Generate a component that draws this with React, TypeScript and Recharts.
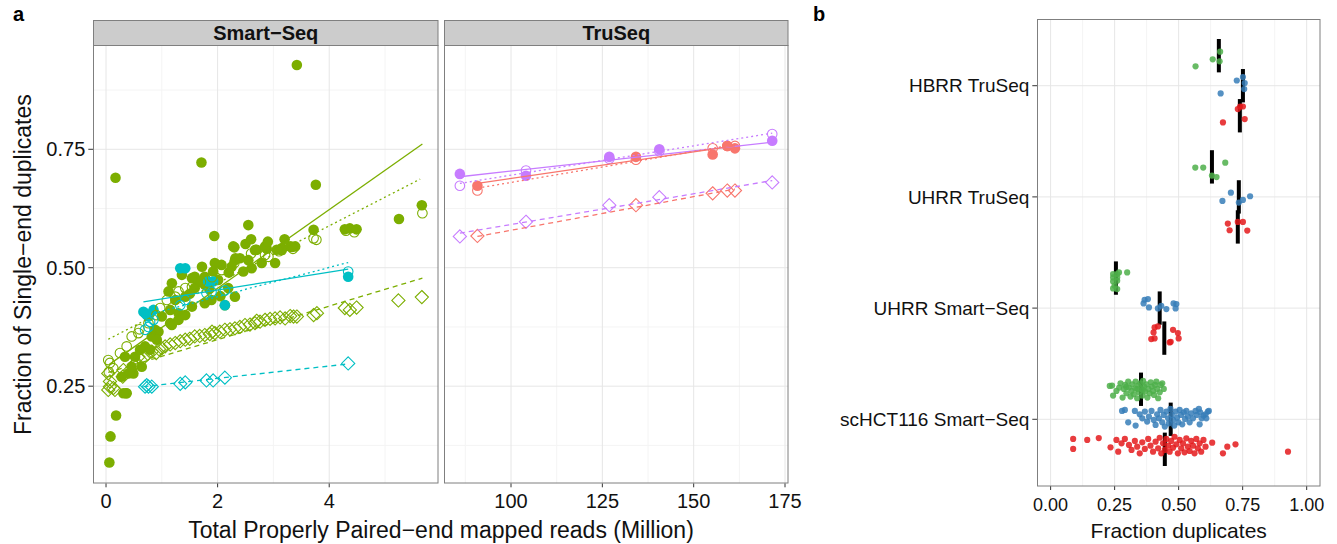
import React from "react";
import {
  ScatterChart,
  Scatter,
  XAxis,
  YAxis,
  CartesianGrid,
  ReferenceLine,
} from "recharts";

// ---- colours ----
const GREEN = "#7CAE00";
const CYAN = "#00BFC4";
const RED = "#F8766D";
const PURPLE = "#C77CFF";
const SET_GREEN = "#4DAF4A";
const SET_BLUE = "#377EB8";
const SET_RED = "#E41A1C";

// ---- panel a, Smart-Seq: [million reads, fraction] ----
const smartGreenFilled = [
  [3.42, 0.928], [0.17, 0.69], [1.71, 0.722], [3.76, 0.675], [1.94, 0.567], [2.55, 0.59],
  [2.3, 0.543], [5.66, 0.632], [5.25, 0.603], [4.28, 0.581], [4.37, 0.583], [4.49, 0.581],
  [3.72, 0.58], [2.68, 0.538], [2.88, 0.54], [3.15, 0.541], [3.39, 0.545], [2.32, 0.52],
  [0.06, 0.089], [0.08, 0.144], [0.18, 0.188], [0.36, 0.235],
  [0.37, 0.235], [0.4, 0.277], [0.52, 0.312], [0.7, 0.334], [0.82, 0.355], [0.94, 0.365],
  [1.18, 0.379], [1.3, 0.404], [1.15, 0.411], [1.12, 0.45], [1.24, 0.432], [1.42, 0.439],
  [1.54, 0.478], [1.72, 0.502], [1.92, 0.492], [1.77, 0.464], [1.59, 0.457], [2.31, 0.516],
  [2.46, 0.492], [2.31, 0.439], [2.13, 0.421], [1.89, 0.432], [2.19, 0.457], [2.67, 0.537],
  [2.79, 0.51], [3.03, 0.51], [3.15, 0.537], [3.33, 0.544], [2.55, 0.516], [2.61, 0.499],
  [0.88, 0.369], [1.0, 0.397], [0.79, 0.327], [0.64, 0.291], [0.46, 0.291], [0.28, 0.27],
  [0.34, 0.312], [1.18, 0.467], [1.36, 0.485], [1.59, 0.481], [1.77, 0.481], [2.01, 0.474],
  [2.07, 0.506], [2.25, 0.502], [1.77, 0.425], [1.54, 0.418], [1.3, 0.39], [1.42, 0.4],
  [2.28, 0.545], [2.7, 0.538], [2.85, 0.545], [3.06, 0.538], [3.3, 0.545],
  [0.31, 0.235], [0.49, 0.277], [0.61, 0.327], [0.91, 0.348], [1.15, 0.383],
  [1.65, 0.47], [1.85, 0.455], [2.05, 0.44], [2.2, 0.49], [1.5, 0.445], [1.95, 0.51],
  [2.4, 0.52], [2.5, 0.55], [2.6, 0.56], [2.9, 0.555], [3.2, 0.56],
];
const smartGreenOpen = [
  [0.04, 0.305], [0.07, 0.299], [0.13, 0.288], [0.05, 0.28], [0.37, 0.334], [0.46, 0.355],
  [0.58, 0.362], [0.76, 0.383], [0.97, 0.415], [1.09, 0.432], [1.24, 0.439], [1.42, 0.457],
  [1.54, 0.46], [2.07, 0.495], [2.1, 0.45], [2.85, 0.527], [2.91, 0.523], [3.72, 0.562],
  [3.77, 0.559], [5.67, 0.615], [4.3, 0.578], [4.45, 0.575], [1.7, 0.47], [1.9, 0.48],
  [2.3, 0.51], [2.6, 0.53], [3.1, 0.535], [3.35, 0.54], [0.25, 0.32], [0.6, 0.37],
  [0.9, 0.4], [1.3, 0.45],
];
const smartGreenDiamond = [
  [0.04, 0.277], [0.07, 0.26], [0.13, 0.246], [0.31, 0.284], [0.58, 0.312], [0.82, 0.323],
  [1.06, 0.334], [1.24, 0.341], [1.42, 0.348], [1.59, 0.355], [1.77, 0.358], [1.95, 0.362],
  [2.13, 0.369], [2.31, 0.372], [2.49, 0.379], [2.67, 0.383], [2.85, 0.39], [3.03, 0.393],
  [3.21, 0.393], [3.36, 0.397], [3.42, 0.397], [3.72, 0.4], [3.78, 0.404], [4.28, 0.415],
  [4.37, 0.411], [4.49, 0.416], [5.24, 0.431], [5.66, 0.438], [0.07, 0.249], [0.16, 0.242],
  [0.04, 0.242], [0.43, 0.284], [0.55, 0.299], [0.67, 0.309], [0.75, 0.318], [0.95, 0.328],
  [1.15, 0.338], [1.33, 0.345], [1.5, 0.35], [1.68, 0.356], [1.86, 0.36], [2.04, 0.365],
  [2.22, 0.37], [2.4, 0.375], [2.58, 0.38], [2.76, 0.386], [2.94, 0.392], [3.12, 0.395],
  [3.3, 0.398], [1.0, 0.33], [1.9, 0.365], [2.7, 0.388], [0.9, 0.32], [0.5, 0.295], [0.3, 0.27],
];
const smartCyanFilled = [
  [0.67, 0.407], [0.76, 0.397], [0.85, 0.411], [0.7, 0.404], [0.73, 0.4], [1.33, 0.499],
  [1.42, 0.499], [1.83, 0.471], [1.92, 0.471], [2.13, 0.421], [4.34, 0.481],
];
const smartCyanOpen = [
  [0.7, 0.369], [0.79, 0.386], [0.76, 0.375], [0.85, 0.39], [1.33, 0.421], [1.42, 0.432],
  [1.8, 0.446], [1.89, 0.449], [2.13, 0.452], [4.34, 0.492],
];
const smartCyanDiamond = [
  [0.7, 0.249], [0.76, 0.249], [0.82, 0.249], [0.73, 0.252], [1.33, 0.255], [1.42, 0.258],
  [1.8, 0.262], [1.92, 0.262], [2.13, 0.268], [4.34, 0.298],
];

// ---- panel a, TruSeq ----
const truPurpleFilled = [[86.0, 0.698], [104.1, 0.694], [126.9, 0.734], [140.6, 0.75], [171.5, 0.768]];
const truPurpleOpen = [[86.0, 0.673], [104.1, 0.705], [126.9, 0.73], [140.6, 0.746], [171.5, 0.782]];
const truPurpleDiamond = [[86.0, 0.566], [104.1, 0.597], [126.9, 0.632], [140.6, 0.649], [171.5, 0.68]];
const truRedFilled = [[90.8, 0.673], [134.2, 0.734], [155.2, 0.739], [159.2, 0.757], [161.3, 0.752]];
const truRedOpen = [[90.8, 0.663], [134.2, 0.728], [155.2, 0.752], [159.2, 0.757], [161.3, 0.757]];
const truRedDiamond = [[90.8, 0.567], [134.2, 0.632], [155.2, 0.657], [159.2, 0.663], [161.3, 0.663]];

// ---- linear fits (end points) ----
const fitGreenSolid = [[0.06, 0.296], [5.67, 0.761]];
const fitGreenDotted = [[0.04, 0.349], [5.63, 0.687]];
const fitGreenDashed = [[0.04, 0.279], [5.67, 0.478]];
const fitCyanSolid = [[0.67, 0.428], [4.34, 0.497]];
const fitCyanDotted = [[0.67, 0.398], [4.34, 0.511]];
const fitCyanDashed = [[0.67, 0.249], [4.34, 0.297]];
const fitPurpleSolid = [[86.0, 0.692], [171.5, 0.765]];
const fitPurpleDotted = [[86.0, 0.678], [171.5, 0.784]];
const fitPurpleDashed = [[86.0, 0.573], [171.5, 0.684]];
const fitRedSolid = [[90.8, 0.678], [161.3, 0.757]];
const fitRedDotted = [[90.8, 0.668], [161.3, 0.76]];
const fitRedDashed = [[90.8, 0.566], [161.3, 0.666]];

// ---- panel b: [fraction duplicates, vertical jitter] ----
const categories = ["scHCT116 Smart\u2212Seq", "UHRR Smart\u2212Seq", "UHRR TruSeq", "HBRR TruSeq"];

const hbrrGreen = [[0.566, -0.096], [0.633, -0.033], [0.66, -0.051], [0.662, 0.036]];
const hbrrBlue = [[0.664, -0.069], [0.727, 0.047], [0.751, 0.078], [0.758, 0.024], [0.756, -0.03]];
const hbrrRed = [[0.673, -0.06], [0.731, 0.06], [0.74, 0.083], [0.751, 0.083], [0.758, -0.03]];
const uhrrTruGreen = [[0.565, -0.006], [0.596, -0.006], [0.63, -0.078], [0.648, -0.092], [0.682, 0.038]];
const uhrrTruBlue = [[0.671, -0.036], [0.704, 0.038], [0.735, -0.051], [0.751, -0.027], [0.779, 0.006]];
const uhrrTruRed = [[0.692, 0.03], [0.699, -0.03], [0.731, 0.045], [0.751, 0.045], [0.768, -0.033]];
const uhrrSmartGreen = [
  [0.244, 0.036], [0.26, 0.036], [0.267, 0.051], [0.299, 0.051], [0.244, 0.006], [0.26, 0.006],
  [0.244, -0.03], [0.26, -0.024], [0.25, -0.069], [0.244, -0.093], [0.26, -0.099],
];
const uhrrSmartBlue = [
  [0.367, 0.075], [0.38, 0.081], [0.363, 0.042], [0.384, 0.006], [0.419, -0.003], [0.452, -0.009],
  [0.48, 0.042], [0.491, 0.036], [0.488, -0.003], [0.432, 0.021],
];
const uhrrSmartRed = [
  [0.406, 0.096], [0.419, 0.105], [0.402, 0.051], [0.406, -0.003], [0.393, -0.009], [0.478, 0.075],
  [0.497, 0.045], [0.5, -0.003], [0.469, -0.033], [0.465, -0.039],
];
const scGreen = [
  [0.24, 0.033], [0.244, -0.057], [0.257, -0.015], [0.268, 0.015], [0.273, 0.054], [0.281, -0.075],
  [0.286, 0.003], [0.291, 0.039], [0.296, -0.036], [0.303, 0.069], [0.306, 0.015], [0.312, -0.066],
  [0.316, -0.015], [0.319, 0.045], [0.325, -0.045], [0.33, 0.009], [0.332, 0.069], [0.338, -0.081],
  [0.342, 0.033], [0.345, -0.027], [0.351, 0.054], [0.355, 0.003], [0.358, -0.057], [0.361, 0.075],
  [0.365, 0.024], [0.369, -0.021], [0.374, 0.045], [0.378, -0.075], [0.382, 0.003], [0.387, -0.036],
  [0.391, 0.063], [0.395, 0.024], [0.4, -0.015], [0.404, -0.051], [0.408, 0.039], [0.413, 0.069],
  [0.416, 0.003], [0.42, -0.081], [0.426, -0.027], [0.43, 0.039], [0.436, 0.054], [0.442, 0.003],
  [0.231, 0.03], [0.296, 0.021], [0.338, 0.003], [0.36, -0.006],
];
const scBlue = [
  [0.279, 0.075], [0.29, 0.084], [0.303, -0.027], [0.329, 0.075], [0.332, -0.057], [0.348, 0.045],
  [0.358, 0.009], [0.368, 0.069], [0.377, -0.021], [0.384, 0.024], [0.394, 0.075], [0.403, -0.006],
  [0.41, -0.051], [0.416, 0.045], [0.423, 0.009], [0.429, 0.084], [0.436, -0.027], [0.442, 0.039],
  [0.446, -0.066], [0.452, 0.069], [0.459, 0.009], [0.462, -0.036], [0.468, 0.093], [0.473, 0.039],
  [0.478, -0.006], [0.483, -0.057], [0.488, 0.069], [0.494, 0.015], [0.499, -0.027], [0.504, 0.084],
  [0.509, 0.039], [0.514, -0.045], [0.52, 0.063], [0.525, 0.003], [0.53, 0.075], [0.536, 0.024],
  [0.543, -0.027], [0.549, 0.054], [0.556, 0.009], [0.566, 0.075], [0.571, 0.039], [0.579, 0.093],
  [0.584, 0.063], [0.59, 0.009], [0.597, 0.033], [0.605, 0.045], [0.614, 0.069], [0.618, 0.075],
  [0.608, 0.009], [0.582, -0.045],
];
const scRed = [
  [0.088, 0.093], [0.088, 0.003], [0.143, 0.084], [0.188, 0.101], [0.234, 0.018], [0.257, 0.084],
  [0.264, -0.021], [0.277, 0.054], [0.29, 0.093], [0.306, 0.039], [0.316, -0.006], [0.329, 0.075],
  [0.338, 0.024], [0.348, -0.036], [0.358, 0.063], [0.368, 0.003], [0.381, 0.093], [0.39, 0.033],
  [0.4, -0.021], [0.41, 0.069], [0.42, 0.009], [0.426, 0.104], [0.432, -0.036], [0.439, 0.054],
  [0.446, -0.006], [0.452, 0.093], [0.459, 0.033], [0.465, -0.021], [0.471, 0.075], [0.478, 0.015],
  [0.484, 0.113], [0.491, 0.045], [0.497, -0.036], [0.504, 0.084], [0.51, 0.009], [0.517, 0.054],
  [0.523, -0.027], [0.53, 0.099], [0.536, 0.024], [0.543, -0.015], [0.549, 0.075], [0.556, 0.033],
  [0.562, -0.036], [0.569, 0.093], [0.575, 0.009], [0.582, 0.054], [0.588, -0.021], [0.597, 0.084],
  [0.605, 0.024], [0.631, 0.06], [0.673, -0.036], [0.69, 0.024], [0.722, 0.045], [0.927, -0.021],
];
// medians per category (bottom to top): green, blue, red
const medGreen = [0.353, 0.255, 0.63, 0.657];
const medBlue = [0.469, 0.426, 0.735, 0.751];
const medRed = [0.446, 0.444, 0.731, 0.739];

const FONT = "'Liberation Sans', Arial, Helvetica, sans-serif";
const TICK_A = { fontSize: 20, fill: "#111" };
const TICK_B = { fontSize: 18, fill: "#111" };
const CAT_TICK = { fontSize: 19, fill: "#111" };
const MAJOR = "#E6E6E6";
const MINOR = "#F4F4F4";

const xy = (arr: number[][]) => arr.map(([x, y]) => ({ x, y }));
const jit = (arr: number[][], cat: number, dodge: number) =>
  arr.map(([x, j]) => ({ x, y: cat + dodge + j }));

const filled = (c: string) => (p: any) => <circle cx={p.cx} cy={p.cy} r={5.3} fill={c} />;
const open = (c: string) => (p: any) => (
  <circle cx={p.cx} cy={p.cy} r={4.8} fill="none" stroke={c} strokeWidth={1.1} />
);
const diamond = (c: string) => (p: any) => {
  const s = 6.6;
  return (
    <polygon
      points={`${p.cx},${p.cy - s} ${p.cx + s},${p.cy} ${p.cx},${p.cy + s} ${p.cx - s},${p.cy}`}
      fill="none"
      stroke={c}
      strokeWidth={1.1}
    />
  );
};
const dot = (c: string) => (p: any) => (
  <circle cx={p.cx} cy={p.cy} r={3.1} fill={c} fillOpacity={0.85} />
);
const none = () => <g />;

function fitLine(data: number[][], color: string, dash?: string) {
  return (
    <Scatter
      data={xy(data)}
      shape={none}
      line={{ stroke: color, strokeWidth: 1.3, strokeDasharray: dash }}
      isAnimationActive={false}
    />
  );
}

const DOTTED = "2 3";
const DASHED = "5 4";

function SmartSeqPanel() {
  return (
    <ScatterChart width={440} height={544} margin={{ top: 46, right: 1.7, bottom: 30.7, left: 0 }}>
      <CartesianGrid stroke={MINOR} verticalValues={[1, 3, 5]} horizontalValues={[0.125, 0.375, 0.625, 0.875]} />
      <CartesianGrid stroke={MAJOR} verticalValues={[0, 2, 4]} horizontalValues={[0.25, 0.5, 0.75]} />
      <XAxis
        type="number"
        dataKey="x"
        domain={[-0.228, 5.955]}
        ticks={[0, 2, 4]}
        interval={0}
        allowDataOverflow
        axisLine={false}
        tickSize={4}
        tickMargin={6.5}
        tickLine={{ stroke: "#333" }}
        tick={TICK_A}
        height={30}
      />
      <YAxis
        type="number"
        dataKey="y"
        domain={[0.045, 0.968]}
        ticks={[0.25, 0.5, 0.75]}
        interval={0}
        allowDataOverflow
        tickFormatter={(v: number) => v.toFixed(2)}
        axisLine={false}
        tickSize={5}
        tickMargin={3}
        tickLine={{ stroke: "#333" }}
        tick={TICK_A}
        width={93.3}
      />
      <Scatter data={xy(smartGreenFilled)} shape={filled(GREEN)} isAnimationActive={false} />
      <Scatter data={xy(smartCyanFilled)} shape={filled(CYAN)} isAnimationActive={false} />
      <Scatter data={xy(smartGreenOpen)} shape={open(GREEN)} isAnimationActive={false} />
      <Scatter data={xy(smartCyanOpen)} shape={open(CYAN)} isAnimationActive={false} />
      <Scatter data={xy(smartGreenDiamond)} shape={diamond(GREEN)} isAnimationActive={false} />
      <Scatter data={xy(smartCyanDiamond)} shape={diamond(CYAN)} isAnimationActive={false} />
      {fitLine(fitGreenSolid, GREEN)}
      {fitLine(fitGreenDotted, GREEN, DOTTED)}
      {fitLine(fitGreenDashed, GREEN, DASHED)}
      {fitLine(fitCyanSolid, CYAN)}
      {fitLine(fitCyanDotted, CYAN, DOTTED)}
      {fitLine(fitCyanDashed, CYAN, DASHED)}
    </ScatterChart>
  );
}

function TruSeqPanel() {
  return (
    <ScatterChart width={380} height={544} margin={{ top: 46, right: 31.7, bottom: 30.7, left: 4.3 }}>
      <CartesianGrid stroke={MINOR} verticalValues={[87.5, 112.5, 137.5, 162.5]} horizontalValues={[0.125, 0.375, 0.625, 0.875]} />
      <CartesianGrid stroke={MAJOR} verticalValues={[100, 125, 150, 175]} horizontalValues={[0.25, 0.5, 0.75]} />
      <XAxis
        type="number"
        dataKey="x"
        domain={[81.74, 175.9]}
        ticks={[100, 125, 150, 175]}
        interval={0}
        allowDataOverflow
        axisLine={false}
        tickSize={4}
        tickMargin={6.5}
        tickLine={{ stroke: "#333" }}
        tick={TICK_A}
        height={30}
      />
      <YAxis type="number" dataKey="y" domain={[0.045, 0.968]} allowDataOverflow hide />
      <Scatter data={xy(truPurpleFilled)} shape={filled(PURPLE)} isAnimationActive={false} />
      <Scatter data={xy(truRedFilled)} shape={filled(RED)} isAnimationActive={false} />
      <Scatter data={xy(truPurpleOpen)} shape={open(PURPLE)} isAnimationActive={false} />
      <Scatter data={xy(truRedOpen)} shape={open(RED)} isAnimationActive={false} />
      <Scatter data={xy(truPurpleDiamond)} shape={diamond(PURPLE)} isAnimationActive={false} />
      <Scatter data={xy(truRedDiamond)} shape={diamond(RED)} isAnimationActive={false} />
      {fitLine(fitPurpleSolid, PURPLE)}
      {fitLine(fitPurpleDotted, PURPLE, DOTTED)}
      {fitLine(fitPurpleDashed, PURPLE, DASHED)}
      {fitLine(fitRedSolid, RED)}
      {fitLine(fitRedDotted, RED, DOTTED)}
      {fitLine(fitRedDashed, RED, DASHED)}
    </ScatterChart>
  );
}

const DODGE = 0.27;
const BAR = 0.15;

function DuplicatesPanel() {
  const groups = [
    { cat: 4, g: hbrrGreen, b: hbrrBlue, r: hbrrRed },
    { cat: 3, g: uhrrTruGreen, b: uhrrTruBlue, r: uhrrTruRed },
    { cat: 2, g: uhrrSmartGreen, b: uhrrSmartBlue, r: uhrrSmartRed },
    { cat: 1, g: scGreen, b: scBlue, r: scRed },
  ];
  const green = groups.flatMap((d) => jit(d.g, d.cat, DODGE));
  const blue = groups.flatMap((d) => jit(d.b, d.cat, 0));
  const red = groups.flatMap((d) => jit(d.r, d.cat, -DODGE));
  const bars = [1, 2, 3, 4].flatMap((cat, i) => [
    { x: medGreen[i], y: cat + DODGE },
    { x: medBlue[i], y: cat },
    { x: medRed[i], y: cat - DODGE },
  ]);
  return (
    <ScatterChart width={500} height={544} margin={{ top: 19, right: 10, bottom: 28, left: 57.3 }}>
      <CartesianGrid stroke={MINOR} verticalValues={[0.125, 0.375, 0.625, 0.875]} horizontal={false} />
      <CartesianGrid stroke={MAJOR} verticalValues={[0, 0.25, 0.5, 0.75, 1]} horizontalValues={[1, 2, 3, 4]} />
      <XAxis
        type="number"
        dataKey="x"
        domain={[-0.052, 1.052]}
        ticks={[0, 0.25, 0.5, 0.75, 1]}
        interval={0}
        allowDataOverflow
        tickFormatter={(v: number) => v.toFixed(2)}
        axisLine={false}
        tickSize={4}
        tickMargin={8}
        tickLine={{ stroke: "#333" }}
        tick={TICK_B}
        height={30}
      />
      <YAxis
        type="number"
        dataKey="y"
        domain={[0.4, 4.6]}
        ticks={[1, 2, 3, 4]}
        interval={0}
        allowDataOverflow
        tickFormatter={(v: number) => categories[Math.round(v) - 1] ?? ""}
        axisLine={false}
        tickSize={5}
        tickMargin={3}
        tickLine={{ stroke: "#333" }}
        tick={CAT_TICK}
        width={150}
      />
      <Scatter data={green} shape={dot(SET_GREEN)} isAnimationActive={false} />
      <Scatter data={blue} shape={dot(SET_BLUE)} isAnimationActive={false} />
      <Scatter data={red} shape={dot(SET_RED)} isAnimationActive={false} />
      {bars.map((b, i) => (
        <ReferenceLine
          key={i}
          segment={[
            { x: b.x, y: b.y - BAR },
            { x: b.x, y: b.y + BAR },
          ]}
          stroke="#000"
          strokeWidth={4}
          ifOverflow="visible"
        />
      ))}
    </ScatterChart>
  );
}

export default function App() {
  const abs = (left: number): React.CSSProperties => ({ position: "absolute", left, top: 0 });
  return (
    <div
      style={{
        position: "absolute",
        left: 0,
        top: 0,
        width: 1337,
        height: 544,
        background: "#fff",
        fontFamily: FONT,
      }}
    >
      <div style={abs(0)}>
        <SmartSeqPanel />
      </div>
      <div style={abs(440)}>
        <TruSeqPanel />
      </div>
      <div style={abs(830)}>
        <DuplicatesPanel />
      </div>
      <svg
        width={1337}
        height={544}
        style={{ position: "absolute", left: 0, top: 0, pointerEvents: "none", fontFamily: FONT }}
      >
        {/* strips */}
        <rect x={93.5} y={20.5} width={344.5} height={25} fill="#CCCCCC" stroke="#7F7F7F" />
        <rect x={444.5} y={20.5} width={343.5} height={25} fill="#CCCCCC" stroke="#7F7F7F" />
        <text x={265.8} y={40} textAnchor="middle" fontSize={20} fontWeight="bold" fill="#111">
          Smart{"\u2212"}Seq
        </text>
        <text x={616.3} y={40} textAnchor="middle" fontSize={20} fontWeight="bold" fill="#111">
          TruSeq
        </text>
        {/* panel borders */}
        <rect x={93.5} y={45.5} width={344.5} height={437.5} fill="none" stroke="#7F7F7F" />
        <rect x={444.5} y={45.5} width={343.5} height={437.5} fill="none" stroke="#7F7F7F" />
        <rect x={1037.5} y={19.5} width={282.5} height={466.5} fill="none" stroke="#7F7F7F" />
        {/* titles */}
        <text x={13} y={21} fontSize={20} fontWeight="bold" fill="#000">a</text>
        <text x={813} y={21} fontSize={20} fontWeight="bold" fill="#000">b</text>
        <text
          x={31}
          y={264.6}
          transform="rotate(-90 31 264.6)"
          textAnchor="middle"
          fontSize={23}
          fill="#111"
        >
          Fraction of Single{"\u2212"}end duplicates
        </text>
        <text x={441} y={538} textAnchor="middle" fontSize={23} fill="#111">
          Total Properly Paired{"\u2212"}end mapped reads (Million)
        </text>
        <text x={1178.7} y={538} textAnchor="middle" fontSize={21} fill="#111">
          Fraction duplicates
        </text>
      </svg>
    </div>
  );
}
